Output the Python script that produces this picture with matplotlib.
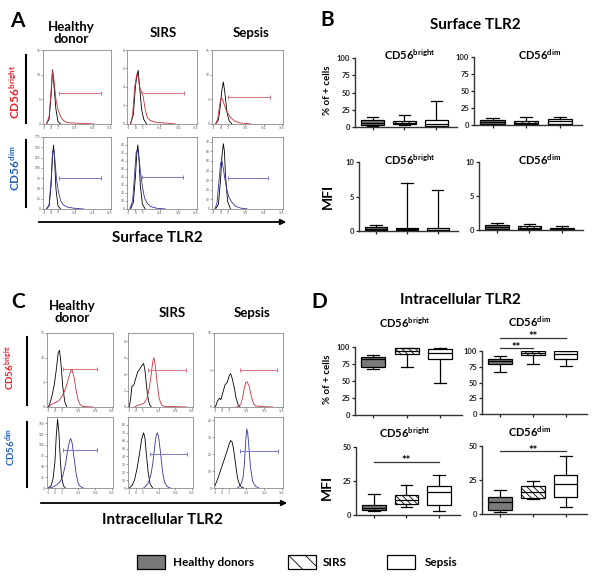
import matplotlib
matplotlib.use("Agg")
import matplotlib.pyplot as plt
from matplotlib.patches import Rectangle

plt.rcParams['font.family'] = ['Lato', 'DejaVu Sans']
plt.rcParams['mathtext.fontset'] = 'custom'
plt.rcParams['mathtext.bf'] = 'Lato:bold'
plt.rcParams['mathtext.rm'] = 'Lato:bold'
plt.rcParams['mathtext.default'] = 'bf'
plt.rcParams['hatch.linewidth'] = 0.6

W, H = 600, 579
fig = plt.figure(figsize=(6.0, 5.79), dpi=100)

# ---------------- data ----------------
groups = ['Healthy donors', 'SIRS', 'Sepsis']
hist_xticks = [2, 12, 22, 47, 73, 98]
hist_xticklabels = ['-1', '0', '1', '1e1', '1e2', '1e3']

# box stats: [min, q1, median, q3, max] for HD, SIRS, Sepsis
surf_pct_bright = [[1, 3, 6, 10, 14], [3, 4, 6, 8, 18], [0, 2, 5, 10, 37]]
surf_pct_dim = [[0.5, 1.5, 5, 8, 10.5], [0.5, 1.5, 3.5, 5.5, 12], [0.5, 1.5, 5.5, 9, 12]]
surf_mfi_bright = [[0.0, 0.1, 0.35, 0.6, 0.85], [0.0, 0.1, 0.3, 0.4, 7.0], [0.0, 0.1, 0.2, 0.4, 5.9]]
surf_mfi_dim = [[0.05, 0.2, 0.5, 0.75, 1.0], [0.05, 0.15, 0.35, 0.55, 0.85], [0.0, 0.05, 0.15, 0.25, 0.55]]
intra_pct_bright = [[67, 71, 82, 85.5, 88], [70, 89.5, 94, 98, 99], [47, 82, 91, 97.5, 99]]
intra_pct_dim = [[67, 80, 84, 88, 92.5], [80, 93, 97, 99.5, 99.5], [76, 88, 96, 99.5, 99.5]]
intra_mfi_bright = [[3, 3.7, 5.4, 7.3, 15.4], [6, 8, 11, 14.6, 22.4], [3.2, 7.3, 16.6, 21.2, 29.3]]
intra_mfi_dim = [[1.7, 2.9, 9, 12.7, 18], [10.7, 11.5, 16, 20.5, 24.4], [5.4, 12.7, 21.7, 29, 42.4]]

# significance brackets: (axis key, group from, group to, line height)
sig_brackets = [('intra_pct_dim', 1, 2, 104), ('intra_pct_dim', 1, 3, 121),
                ('intra_mfi_bright', 1, 3, 39), ('intra_mfi_dim', 1, 3, 46)]

# histogram curves (x: relative fluorescence position 0-100, y: counts)
# --- Surface TLR2, CD56bright
sb_hd_ctrl_x = [5, 9, 12, 14, 16, 19, 22, 26]
sb_hd_ctrl_y = [0, 1, 6, 11, 8, 3, 0.5, 0]
sb_hd_stain_x = [5, 9, 12, 14, 16, 19, 22, 26, 30, 35, 45, 60, 75]
sb_hd_stain_y = [0, 1.5, 7, 10.8, 9, 5, 3, 1.5, 0.7, 0.3, 0.2, 0.1, 0]
sb_sirs_ctrl_x = [5, 9, 12, 14, 16, 18, 21, 24, 28]
sb_sirs_ctrl_y = [0, 1, 4, 5.2, 5.8, 4, 1.5, 0.5, 0]
sb_sirs_stain_x = [5, 8, 11, 14, 16, 18, 20, 23, 26, 29, 33, 40, 55, 70]
sb_sirs_stain_y = [0, 1, 4, 5.4, 5, 4, 3.6, 3, 1.6, 0.7, 0.4, 0.2, 0.1, 0]
sb_sep_ctrl_x = [5, 9, 12, 14, 16, 18, 21, 24, 28]
sb_sep_ctrl_y = [0, 0.8, 4, 7, 8.5, 6.5, 2.5, 0.7, 0]
sb_sep_stain_x = [5, 8, 11, 13, 15, 17, 20, 23, 27, 32, 40, 55]
sb_sep_stain_y = [0, 1, 4, 5.4, 5, 4, 2.8, 2, 1.2, 0.6, 0.2, 0]
# --- Surface TLR2, CD56dim
sd_hd_ctrl_x = [5, 9, 12, 14, 15.5, 17, 19, 22, 26]
sd_hd_ctrl_y = [0, 8, 60, 130, 155, 120, 50, 8, 0]
sd_hd_stain_x = [5, 9, 12, 14, 16, 18, 20, 23, 26, 30, 35, 45, 60]
sd_hd_stain_y = [0, 10, 70, 140, 145, 110, 70, 40, 20, 10, 5, 2, 0]
sd_sirs_ctrl_x = [5, 9, 12, 14, 15.5, 17, 19, 22, 26]
sd_sirs_ctrl_y = [0, 8, 40, 70, 80, 65, 30, 6, 0]
sd_sirs_stain_x = [4, 8, 11, 13, 15, 17, 19, 22, 25, 29, 34, 42, 55]
sd_sirs_stain_y = [0, 10, 45, 70, 75, 65, 48, 28, 14, 7, 3, 1, 0]
sd_sep_ctrl_x = [5, 9, 12, 14, 16, 17.5, 19, 22, 26]
sd_sep_ctrl_y = [0, 5, 30, 55, 68, 60, 35, 8, 0]
sd_sep_stain_x = [4, 7, 10, 12, 14, 16, 18, 21, 24, 28, 33, 40, 50]
sd_sep_stain_y = [0, 6, 30, 48, 50, 42, 32, 20, 12, 7, 3, 1, 0]
# --- Intracellular TLR2, CD56bright
ib_hd_ctrl_x = [2, 5, 8, 11, 14, 17, 19, 21, 24, 27, 30]
ib_hd_ctrl_y = [0, 1, 2.5, 4.5, 7.5, 11, 11.5, 9, 4, 1, 0]
ib_hd_stain_x = [3, 6, 10, 14, 18, 22, 26, 30, 33, 36, 38, 41, 44, 47, 50, 55, 70]
ib_hd_stain_y = [0, 0.5, 0.7, 1, 1.3, 2, 3, 4.5, 6, 7.3, 7.5, 6, 3.5, 1.5, 0.5, 0.1, 0]
ib_sirs_ctrl_x = [2, 4, 6, 9, 12, 15, 18, 21, 24, 26, 28, 30, 33, 36]
ib_sirs_ctrl_y = [0, 1, 2.5, 2.7, 3.5, 4.3, 4.6, 5, 5.3, 4.5, 3, 1.5, 0.3, 0]
ib_sirs_stain_x = [10, 15, 20, 25, 29, 32, 35, 38, 40, 42, 45, 48, 52, 58, 70, 90]
ib_sirs_stain_y = [0, 0.2, 0.3, 0.5, 1, 2, 3.5, 5.5, 6, 5, 2.8, 1, 0.2, 0.05, 0.05, 0]
ib_sep_ctrl_x = [2, 5, 8, 10, 13, 16, 19, 22, 24, 26, 29, 32, 35, 38]
ib_sep_ctrl_y = [0, 0.8, 1.2, 1.0, 2, 3, 3.3, 4.2, 4.5, 4, 2.8, 1.2, 0.3, 0]
ib_sep_stain_x = [32, 36, 39, 42, 44, 46, 48, 51, 54, 57, 60, 70, 85]
ib_sep_stain_y = [0, 0.15, 0.4, 1.5, 2.6, 3.3, 3.4, 2.8, 1.5, 0.5, 0.15, 0.05, 0]
# --- Intracellular TLR2, CD56dim
id_hd_ctrl_x = [2, 6, 9, 12, 14, 16, 18, 20, 22, 25, 28]
id_hd_ctrl_y = [0, 5, 20, 60, 120, 160, 130, 70, 25, 5, 0]
id_hd_stain_x = [4, 10, 15, 20, 24, 28, 31, 34, 36, 38, 41, 44, 47, 50, 55]
id_hd_stain_y = [0, 3, 8, 15, 28, 55, 85, 108, 115, 105, 70, 35, 12, 4, 0]
id_sirs_ctrl_x = [2, 6, 10, 14, 18, 21, 24, 26, 28, 31, 34, 38]
id_sirs_ctrl_y = [0, 3, 10, 25, 45, 62, 70, 64, 45, 20, 5, 0]
id_sirs_stain_x = [24, 28, 32, 35, 38, 41, 43, 45, 47, 50, 53, 56, 60, 65]
id_sirs_stain_y = [0, 3, 8, 16, 30, 52, 65, 70, 65, 45, 22, 8, 2, 0]
id_sep_ctrl_x = [0, 5, 10, 15, 19, 22, 24, 26, 28, 31, 34, 37, 40, 43]
id_sep_ctrl_y = [0, 5, 11, 17, 22, 26, 28, 27.5, 24, 15, 6, 2, 0.5, 0]
id_sep_stain_x = [34, 37, 40, 42, 44, 46, 47.5, 49, 51, 53, 56, 60, 65]
id_sep_stain_y = [0, 1, 3, 6, 14, 28, 35, 32, 22, 12, 4, 1, 0]

# gates: (start, end, height)
surf_bright_gates = [(24, 85, 6.3), (22, 81, 3.4), (23, 81, 5.5)]
surf_dim_gates = [(24, 85, 75), (22, 80, 40), (22, 79, 32)]
intra_bright_gates = [(24, 75, 7.8), (30, 89, 4.5), (38, 92, 5)]
intra_dim_gates = [(24, 76, 88), (34, 91, 43), (38, 93, 22)]

# y-axis ranges/ticks for histogram panels
surf_bright_ylim = [15, 8, 15]
surf_bright_yticks = [[0, 5, 10, 15], [0, 2, 4, 6, 8], [0, 5, 10, 15]]
surf_dim_ylim = [175, 90, 75]
surf_dim_yticks = [[0, 25, 50, 75, 100, 125, 150, 175], [0, 10, 20, 30, 40, 50, 60, 70, 80],
                   [0, 10, 20, 30, 40, 50, 60, 70]]
intra_bright_ylim = [15, 9, 10]
intra_bright_yticks = [[0, 5, 10, 15], [0, 2, 4, 6, 8], [0, 5, 10]]
intra_dim_ylim = [165, 90, 42]
intra_dim_yticks = [[0, 25, 50, 75, 100, 125, 150], [0, 10, 20, 30, 40, 50, 60, 70, 80],
                    [0, 10, 20, 30, 40]]

RED = '#e02028'
BLUE = '#1f5fbf'
CURVE_RED = '#c8303c'
CURVE_BLUE = '#34349a'
GATE_RED = '#d87080'
GATE_BLUE = '#7878c8'


def px_axes(l, t, r, b):
    return fig.add_axes([l / W, 1 - b / H, (r - l) / W, (b - t) / H])


overlay = fig.add_axes([0, 0, 1, 1])
overlay.set_xlim(0, W)
overlay.set_ylim(H, 0)
overlay.axis('off')
overlay.set_zorder(10)


def T(x, y, s, **kw):
    kw.setdefault('ha', 'center')
    kw.setdefault('va', 'center')
    kw.setdefault('fontweight', 'bold')
    overlay.text(x, y, s, **kw)


def hist_panel(box, curves, color, gate, gcolor, ylim, yticks):
    ax = px_axes(*box)
    for (cx, cy), c in zip(curves, ['black', color]):
        ax.plot(cx, cy, color=c, lw=0.6)
    g0, g1, gy = gate
    ax.errorbar([(g0 + g1) / 2], [gy], xerr=[[(g1 - g0) / 2], [(g1 - g0) / 2]],
                fmt='none', ecolor=gcolor, elinewidth=0.7, capsize=1.5, capthick=0.7)
    ax.set_xlim(0, 100)
    ax.set_ylim(0, ylim)
    ax.set_xticks(hist_xticks)
    ax.set_xticklabels(hist_xticklabels)
    ax.set_yticks(yticks)
    ax.tick_params(labelsize=2.3, length=1.2, width=0.4, pad=0.6, colors='#555555')
    for s in ax.spines.values():
        s.set_color('#8a8a8a')
        s.set_linewidth(0.6)
    return ax


# ---------- Panel A ----------
A_top = [(43, 50, 111, 124), (127, 50, 197, 124), (212, 50, 283, 124)]
A_bot = [(43, 137, 111, 209), (127, 137, 197, 209), (212, 137, 283, 209)]
sb_curves = [((sb_hd_ctrl_x, sb_hd_ctrl_y), (sb_hd_stain_x, sb_hd_stain_y)),
             ((sb_sirs_ctrl_x, sb_sirs_ctrl_y), (sb_sirs_stain_x, sb_sirs_stain_y)),
             ((sb_sep_ctrl_x, sb_sep_ctrl_y), (sb_sep_stain_x, sb_sep_stain_y))]
sd_curves = [((sd_hd_ctrl_x, sd_hd_ctrl_y), (sd_hd_stain_x, sd_hd_stain_y)),
             ((sd_sirs_ctrl_x, sd_sirs_ctrl_y), (sd_sirs_stain_x, sd_sirs_stain_y)),
             ((sd_sep_ctrl_x, sd_sep_ctrl_y), (sd_sep_stain_x, sd_sep_stain_y))]
for i in range(3):
    hist_panel(A_top[i], sb_curves[i], CURVE_RED, surf_bright_gates[i], GATE_RED,
               surf_bright_ylim[i], surf_bright_yticks[i])
    hist_panel(A_bot[i], sd_curves[i], CURVE_BLUE, surf_dim_gates[i], GATE_BLUE,
               surf_dim_ylim[i], surf_dim_yticks[i])

# ---------- Panel C ----------
C_top = [(47, 333, 113, 407), (128, 333, 193, 407), (214, 333, 283, 407)]
C_bot = [(47, 417, 113, 488), (128, 417, 193, 488), (214, 417, 283, 488)]
ib_curves = [((ib_hd_ctrl_x, ib_hd_ctrl_y), (ib_hd_stain_x, ib_hd_stain_y)),
             ((ib_sirs_ctrl_x, ib_sirs_ctrl_y), (ib_sirs_stain_x, ib_sirs_stain_y)),
             ((ib_sep_ctrl_x, ib_sep_ctrl_y), (ib_sep_stain_x, ib_sep_stain_y))]
id_curves = [((id_hd_ctrl_x, id_hd_ctrl_y), (id_hd_stain_x, id_hd_stain_y)),
             ((id_sirs_ctrl_x, id_sirs_ctrl_y), (id_sirs_stain_x, id_sirs_stain_y)),
             ((id_sep_ctrl_x, id_sep_ctrl_y), (id_sep_stain_x, id_sep_stain_y))]
for i in range(3):
    hist_panel(C_top[i], ib_curves[i], CURVE_RED, intra_bright_gates[i], GATE_RED,
               intra_bright_ylim[i], intra_bright_yticks[i])
    hist_panel(C_bot[i], id_curves[i], CURVE_BLUE, intra_dim_gates[i], GATE_BLUE,
               intra_dim_ylim[i], intra_dim_yticks[i])

# ---------- Box plots ----------
FILLS = ['#7a7a7a', 'white', 'white']
HATCHES = [None, '\\\\\\\\\\', None]


def box_panel(box, data, ylim, yticks):
    ax = px_axes(*box)
    ax.patch.set_alpha(0)
    stats = [dict(whislo=d[0], q1=d[1], med=d[2], q3=d[3], whishi=d[4], fliers=[]) for d in data]
    bp = ax.bxp(stats, positions=[1, 2, 3], widths=0.72, capwidths=0.36, patch_artist=True,
                showfliers=False,
                boxprops=dict(linewidth=0.9, edgecolor='black'),
                whiskerprops=dict(linewidth=0.9, color='black'),
                capprops=dict(linewidth=0.9, color='black'),
                medianprops=dict(linewidth=0.9, color='black'))
    for patch, fc, h in zip(bp['boxes'], FILLS, HATCHES):
        patch.set_facecolor(fc)
        if h:
            patch.set_hatch(h)
    ax.set_xlim(0.45, 3.65)
    ax.set_ylim(0, ylim)
    ax.set_yticks(yticks)
    ax.set_xticks([1, 2, 3])
    ax.set_xticklabels([])
    ax.spines['top'].set_visible(False)
    ax.spines['right'].set_visible(False)
    for s in ['left', 'bottom']:
        ax.spines[s].set_linewidth(1.0)
        ax.spines[s].set_color('#333333')
    ax.tick_params(length=2.5, width=0.9, labelsize=5.5, pad=1, colors='#222222')
    for lab in ax.get_yticklabels():
        lab.set_fontweight('bold')
    return ax


pct_ticks = [0, 25, 50, 75, 100]
box_axes = {}
box_axes['surf_pct_bright'] = box_panel((355, 58, 457, 127), surf_pct_bright, 100, pct_ticks)
box_axes['surf_pct_dim'] = box_panel((474, 57, 582, 125), surf_pct_dim, 100, pct_ticks)
box_axes['surf_mfi_bright'] = box_panel((359, 162, 458, 231), surf_mfi_bright, 10, [0, 5, 10])
box_axes['surf_mfi_dim'] = box_panel((479, 162, 583, 230), surf_mfi_dim, 10, [0, 5, 10])
box_axes['intra_pct_bright'] = box_panel((355, 347, 462, 415), intra_pct_bright, 100, pct_ticks)
box_axes['intra_pct_dim'] = box_panel((482, 351, 587, 414), intra_pct_dim, 100, pct_ticks)
box_axes['intra_mfi_bright'] = box_panel((356, 447, 460, 515), intra_mfi_bright, 50, [0, 25, 50])
box_axes['intra_mfi_dim'] = box_panel((482, 446, 587, 514), intra_mfi_dim, 50, [0, 25, 50])

for key, g0, g1, y in sig_brackets:
    ax = box_axes[key]
    ax.plot([g0, g1], [y, y], color='#333333', lw=0.9, clip_on=False)
    ax.annotate('**', xy=((g0 + g1) / 2, y), xytext=(0, -1.8), textcoords='offset points',
                ha='center', va='baseline', fontsize=8, fontweight='bold',
                annotation_clip=False)

# ---------- Texts ----------
T(17, 21, 'A', fontsize=15)
T(327, 20, 'B', fontsize=15)
T(18, 302, 'C', fontsize=15)
T(319, 302, 'D', fontsize=15)

T(71, 33, 'Healthy\ndonor', fontsize=9.5, linespacing=1.05)
T(163, 33, 'SIRS', fontsize=9.5)
T(251, 33, 'Sepsis', fontsize=9.5)
T(72, 312, 'Healthy\ndonor', fontsize=9.5, linespacing=1.05)
T(172, 313, 'SIRS', fontsize=9.5)
T(252, 313, 'Sepsis', fontsize=9.5)

T(15, 92, 'CD56$^{bright}$', fontsize=8.5, rotation=90, color=RED)
T(15, 168, 'CD56$^{dim}$', fontsize=8.5, rotation=90, color=BLUE)
T(10, 367, 'CD56$^{bright}$', fontsize=7, rotation=90, color=RED)
T(11, 447, 'CD56$^{dim}$', fontsize=7, rotation=90, color=BLUE)

overlay.plot([25.5, 25.5], [55, 123], color='black', lw=1.5)
overlay.plot([25.5, 25.5], [140, 207], color='black', lw=1.5)
overlay.plot([27, 27], [337, 405], color='black', lw=1.5)
overlay.plot([27, 27], [422, 487], color='black', lw=1.5)

overlay.annotate('', xy=(289, 222), xytext=(36, 222),
                 arrowprops=dict(arrowstyle='-|>', color='black', lw=1.3, mutation_scale=8))
overlay.annotate('', xy=(290, 503), xytext=(38, 503),
                 arrowprops=dict(arrowstyle='-|>', color='black', lw=1.3, mutation_scale=8))
T(157, 238, 'Surface TLR2', fontsize=11)
T(162, 520, 'Intracellular TLR2', fontsize=11)

T(475, 25, 'Surface TLR2', fontsize=11)
T(460, 300, 'Intracellular TLR2', fontsize=11)

T(410, 55, 'CD56$^{bright}$', fontsize=8)
T(540, 55, 'CD56$^{dim}$', fontsize=8)
T(410, 160, 'CD56$^{bright}$', fontsize=8)
T(540, 160, 'CD56$^{dim}$', fontsize=8)
T(405, 323, 'CD56$^{bright}$', fontsize=8)
T(530, 322, 'CD56$^{dim}$', fontsize=8)
T(405, 433, 'CD56$^{bright}$', fontsize=8)
T(530, 432, 'CD56$^{dim}$', fontsize=8)

T(328, 90, '% of + cells', fontsize=7, rotation=90)
T(328, 196, 'MFI', fontsize=10, rotation=90)
T(327, 379, '% of + cells', fontsize=7, rotation=90)
T(327, 487, 'MFI', fontsize=10, rotation=90)

# ---------- Legend ----------
leg_boxes_x = [137, 288, 387]
leg_text_x = [173, 323, 425]
for i, g in enumerate(groups):
    r = Rectangle((leg_boxes_x[i], 555), 28, 14, facecolor=FILLS[i], edgecolor='black',
                  lw=0.9, hatch='\\\\' if HATCHES[i] else None)
    overlay.add_patch(r)
    T(leg_text_x[i], 562, g, fontsize=8.5, ha='left')

fig.savefig('out.png', dpi=100)
